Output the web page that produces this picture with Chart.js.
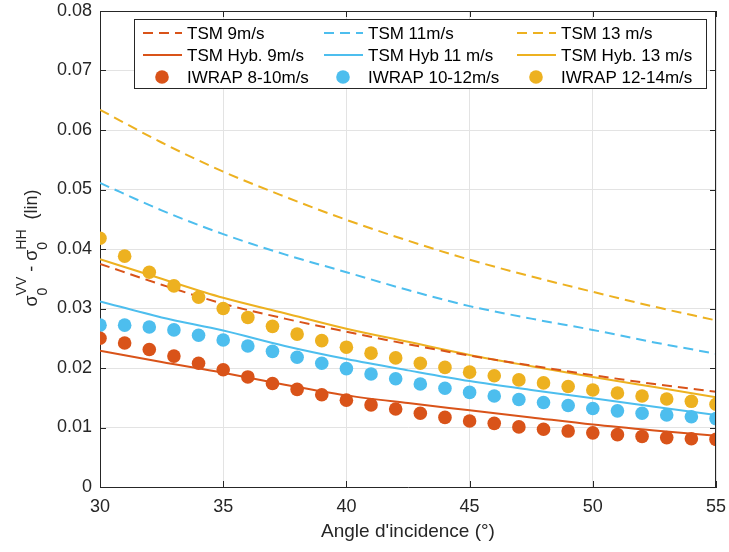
<!DOCTYPE html>
<html>
<head>
<meta charset="utf-8">
<script src="https://cdn.jsdelivr.net/npm/chart.js@4.4.0/dist/chart.umd.min.js"></script>
<style>
  html, body { margin: 0; padding: 0; background: #fff; }
</style>
</head>
<body>
<canvas id="chart" width="729" height="552"></canvas>
<script>
// --- data ---
const dotAngles = [30,31,32,33,34,35,36,37,38,39,40,41,42,43,44,45,46,47,48,49,50,51,52,53,54,55];
const iwrap8_10  = [0.0250,0.0242,0.0231,0.0220,0.0208,0.0197,0.0185,0.0174,0.0164,0.0155,0.0146,0.0138,0.0131,0.0124,0.0117,0.0111,0.0107,0.0101,0.0097,0.0094,0.0091,0.0088,0.0085,0.0083,0.0081,0.0080];
const iwrap10_12 = [0.0272,0.0272,0.0269,0.0264,0.0255,0.0247,0.0237,0.0228,0.0218,0.0208,0.0199,0.0190,0.0182,0.0173,0.0166,0.0159,0.0153,0.0147,0.0142,0.0137,0.0132,0.0128,0.0124,0.0121,0.0118,0.0115];
const iwrap12_14 = [0.0418,0.0388,0.0361,0.0338,0.0319,0.0300,0.0285,0.0270,0.0257,0.0246,0.0235,0.0225,0.0217,0.0208,0.0201,0.0193,0.0187,0.0180,0.0175,0.0169,0.0163,0.0158,0.0153,0.0148,0.0144,0.0139];

const lineAngles = [30,32.5,35,37.5,40,42.5,45,47.5,50,52.5,55];
const tsm9   = [0.0375,0.0340,0.0308,0.0283,0.0261,0.0240,0.0221,0.0204,0.0188,0.0173,0.0160];
const tsm11  = [0.0511,0.0465,0.0425,0.0391,0.0361,0.0331,0.0304,0.0283,0.0264,0.0243,0.0224];
const tsm13  = [0.0634,0.0579,0.0530,0.0488,0.0449,0.0414,0.0382,0.0354,0.0328,0.0303,0.0280];
const hyb9   = [0.0229,0.0210,0.0192,0.0172,0.0154,0.0141,0.0129,0.0117,0.0105,0.0095,0.0086];
const hyb11  = [0.0312,0.0285,0.0263,0.0237,0.0215,0.0196,0.0178,0.0163,0.0149,0.0135,0.0121];
const hyb13  = [0.0383,0.0350,0.0318,0.0292,0.0266,0.0244,0.0222,0.0203,0.0185,0.0168,0.0151];

const xTicks = [30,35,40,45,50,55];
const yTicks = [0,0.01,0.02,0.03,0.04,0.05,0.06,0.07,0.08];

const RED = '#D95319', BLUE = '#4DBEEE', YELLOW = '#EDB120';
const FONT = '"Liberation Sans", Arial, Helvetica, sans-serif';
const INK = '#262626';

const pts = (xs, ys) => xs.map((x, i) => ({ x, y: ys[i] }));

function lineSet(label, ys, color, dashed) {
  return {
    label, data: pts(lineAngles, ys), showLine: true,
    borderColor: color, backgroundColor: color, borderWidth: 2,
    borderDash: dashed ? [10, 6] : [], pointRadius: 0, pointHoverRadius: 0,
    cubicInterpolationMode: 'monotone', order: 2, kind: dashed ? 'dash' : 'line'
  };
}
function dotSet(label, ys, color) {
  return {
    label, data: pts(dotAngles, ys), showLine: false,
    borderColor: color, backgroundColor: color, pointRadius: 6.8,
    pointBorderWidth: 0, order: 1, kind: 'dot'
  };
}

// row-major, same as the legend
const datasets = [
  lineSet('TSM 9m/s', tsm9, RED, true),
  lineSet('TSM 11m/s', tsm11, BLUE, true),
  lineSet('TSM 13 m/s', tsm13, YELLOW, true),
  lineSet('TSM Hyb. 9m/s', hyb9, RED, false),
  lineSet('TSM Hyb 11 m/s', hyb11, BLUE, false),
  lineSet('TSM Hyb. 13 m/s', hyb13, YELLOW, false),
  dotSet('IWRAP 8-10m/s', iwrap8_10, RED),
  dotSet('IWRAP 10-12m/s', iwrap10_12, BLUE),
  dotSet('IWRAP 12-14m/s', iwrap12_14, YELLOW)
];

// box, inner ticks, legend and axis titles
const framePlugin = {
  id: 'frame',
  afterDraw(chart) {
    const { ctx, chartArea: a, scales: { x, y } } = chart;
    ctx.save();
    ctx.strokeStyle = INK;
    ctx.lineWidth = 1;
    ctx.beginPath();
    ctx.moveTo(a.left, a.top + 0.5); ctx.lineTo(a.right, a.top + 0.5);
    ctx.moveTo(a.right - 0.5, a.top); ctx.lineTo(a.right - 0.5, a.bottom);
    xTicks.forEach(v => {
      const px = Math.round(x.getPixelForValue(v)) + 0.5;
      ctx.moveTo(px, a.bottom); ctx.lineTo(px, a.bottom - 6);
      ctx.moveTo(px, a.top); ctx.lineTo(px, a.top + 6);
    });
    yTicks.forEach(v => {
      const py = Math.round(y.getPixelForValue(v)) + 0.5;
      ctx.moveTo(a.left, py); ctx.lineTo(a.left + 6, py);
      ctx.moveTo(a.right, py); ctx.lineTo(a.right - 6, py);
    });
    ctx.stroke();

    // legend
    const lx = 134, ly = 19, lw = 572, lh = 69;
    ctx.fillStyle = '#fff';
    ctx.fillRect(lx, ly, lw, lh);
    ctx.strokeStyle = INK;
    ctx.strokeRect(lx + 0.5, ly + 0.5, lw, lh);
    const colX = [143, 324, 517];
    const rowY = [33, 55, 77];
    ctx.font = '17px ' + FONT;
    ctx.textBaseline = 'middle';
    datasets.forEach((ds, i) => {
      const cx = colX[i % 3], cy = rowY[Math.floor(i / 3)];
      ctx.strokeStyle = ds.borderColor;
      ctx.fillStyle = ds.borderColor;
      ctx.lineWidth = 2;
      if (ds.kind === 'dot') {
        ctx.beginPath(); ctx.arc(cx + 19, cy, 6.8, 0, Math.PI * 2); ctx.fill();
      } else {
        ctx.setLineDash(ds.kind === 'dash' ? [10, 6] : []);
        ctx.beginPath(); ctx.moveTo(cx, cy); ctx.lineTo(cx + 39, cy); ctx.stroke();
        ctx.setLineDash([]);
      }
      ctx.fillStyle = '#000';
      ctx.fillText(ds.label, cx + 44, cy + 1);
    });

    // x title
    ctx.fillStyle = INK;
    ctx.font = '19px ' + FONT;
    ctx.textAlign = 'center';
    ctx.textBaseline = 'alphabetic';
    ctx.fillText("Angle d'incidence (°)", (a.left + a.right) / 2, 537);

    // y title with sub/superscripts, rotated
    const main = '18px ' + FONT, small = '14px ' + FONT;
    const parts = [
      { t: 'σ', f: main, dy: 0 },
      { stack: [{ t: '0', dy: 10 }, { t: 'VV', dy: -11 }] },
      { t: ' - ', f: main, dy: 0 },
      { t: 'σ', f: main, dy: 0 },
      { stack: [{ t: '0', dy: 10 }, { t: 'HH', dy: -11 }] },
      { t: '  (lin)', f: main, dy: 0 }
    ];
    const widthOf = p => {
      if (p.stack) { ctx.font = small; return Math.max(...p.stack.map(s => ctx.measureText(s.t).width)); }
      ctx.font = p.f; return ctx.measureText(p.t).width;
    };
    const total = parts.reduce((s, p) => s + widthOf(p), 0);
    ctx.translate(37, 248);
    ctx.rotate(-Math.PI / 2);
    ctx.textAlign = 'left';
    let cur = -total / 2;
    parts.forEach(p => {
      const w = widthOf(p);
      if (p.stack) {
        ctx.font = small;
        p.stack.forEach(s => ctx.fillText(s.t, cur, s.dy));
      } else {
        ctx.font = p.f;
        ctx.fillText(p.t, cur, p.dy);
      }
      cur += w;
    });
    ctx.restore();
  }
};

new Chart(document.getElementById('chart'), {
  type: 'scatter',
  data: { datasets },
  options: {
    responsive: false,
    animation: false,
    layout: { padding: { top: 11, right: 13, left: 0, bottom: 0 } },
    plugins: { legend: { display: false }, tooltip: { enabled: false } },
    scales: {
      x: {
        type: 'linear', min: 30, max: 55,
        afterBuildTicks: s => { s.ticks = xTicks.map(v => ({ value: v })); },
        afterFit: s => { s.height = 65; s.paddingLeft = 0; s.paddingRight = 0; },
        grid: { color: '#e3e3e3', drawTicks: false },
        border: { display: true, color: INK },
        ticks: { color: INK, font: { family: FONT, size: 18 }, padding: 9, maxRotation: 0 }
      },
      y: {
        type: 'linear', min: 0, max: 0.08,
        afterBuildTicks: s => { s.ticks = yTicks.map(v => ({ value: v })); },
        afterFit: s => { s.width = 100; s.paddingTop = 0; s.paddingBottom = 0; },
        grid: { color: '#e3e3e3', drawTicks: false },
        border: { display: true, color: INK },
        ticks: { color: INK, font: { family: FONT, size: 18 }, padding: 8,
                 callback: v => v === 0 ? '0' : v.toFixed(2) }
      }
    }
  },
  plugins: [framePlugin]
});
</script>
</body>
</html>
